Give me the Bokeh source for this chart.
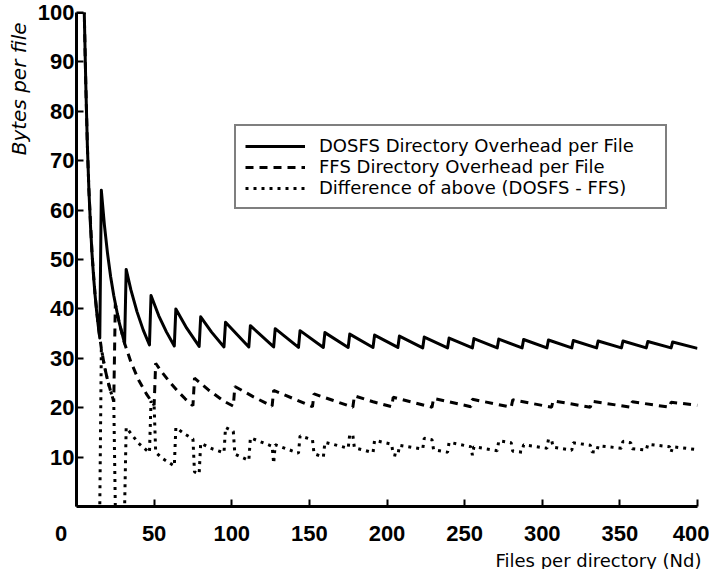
from bokeh.plotting import figure
from bokeh.models import FixedTicker, Legend, LegendItem, Range1d, Title
from bokeh.embed import file_html
from bokeh.resources import INLINE

# ---- data ----
dosfs_n = [1, 5, 6, 7, 8, 9, 10, 11, 12, 13, 14, 15,
           16, 18, 20, 22, 24, 27, 31,
           32, 35, 39, 43, 47,
           48, 53, 58, 63,
           64, 71, 79,
           80, 87, 95,
           96, 111, 112, 127, 128, 143, 144, 159, 160, 175, 176, 191, 192, 207,
           208, 223, 224, 239, 240, 255, 256, 271, 272, 287, 288, 303, 304, 319,
           320, 335, 336, 351, 352, 367, 368, 383, 384, 400]
dosfs_bytes = [100, 100, 85.3, 73.1, 64.0, 56.9, 51.2, 46.5, 42.7, 39.4, 36.6, 34.1,
               64.0, 56.9, 51.2, 46.5, 42.7, 37.9, 33.0,
               48.0, 43.9, 39.4, 35.7, 32.7,
               42.7, 38.6, 35.3, 32.5,
               40.0, 36.1, 32.4,
               38.4, 35.3, 32.3,
               37.3, 32.3, 36.6, 32.3, 36.0, 32.2, 35.6, 32.2, 35.2, 32.2, 34.9, 32.2, 34.7, 32.2,
               34.5, 32.1, 34.3, 32.1, 34.1, 32.1, 34.0, 32.1, 33.9, 32.1, 33.8, 32.1, 33.7, 32.1,
               33.6, 32.1, 33.5, 32.1, 33.5, 32.1, 33.4, 32.1, 33.3, 32.0]

ffs_n = [1, 5, 6, 7, 8, 10, 12, 14, 16, 18, 20, 22, 24,
         25, 28, 31, 35, 40, 45, 50,
         51, 55, 60, 65, 70, 75,
         76, 85, 95, 101,
         102, 114, 126,
         127, 140, 152,
         153, 165, 178,
         179, 191, 203,
         204, 229, 230, 254, 255, 280, 281, 306, 307, 331, 332, 357, 358, 382, 383, 400]
ffs_bytes = [100, 100, 85.3, 73.1, 64.0, 51.2, 42.7, 36.6, 32.0, 28.4, 25.6, 23.3, 21.3,
             41.0, 36.6, 33.0, 29.3, 25.6, 22.8, 20.5,
             29.0, 27.2, 25.2, 23.4, 21.8, 20.4,
             26.0, 23.6, 21.3, 20.3,
             24.3, 22.2, 20.3,
             23.5, 21.8, 20.2,
             22.8, 21.5, 20.1,
             22.4, 21.2, 20.2,
             22.1, 20.1, 21.9, 20.2, 21.7, 20.1, 21.6, 20.1, 21.4, 20.1, 21.3, 20.1, 21.2, 20.1, 21.1, 20.5]

diff_n = [1, 15, 16, 18, 20, 22, 24, 25, 31,
          32, 40, 47, 48, 50,
          51, 55, 63, 64, 70, 75,
          76, 79, 80, 88, 95,
          96, 101, 102, 111, 112, 126, 127,
          128, 143, 144, 152, 153, 159, 160, 175,
          176, 178, 179, 191, 192, 203, 204, 207,
          208, 223, 224, 229, 230, 239, 240, 254, 255,
          256, 271, 272, 280, 281, 287, 288, 303,
          304, 306, 307, 319, 320, 331, 332, 335,
          336, 351, 352, 357, 358, 367, 368, 382, 383,
          384, 400]
diff_bytes = [0, 0, 32.0, 28.4, 25.6, 23.3, 21.3, 0, 0,
              16.0, 12.8, 10.9, 21.3, 20.5,
              11.0, 9.8, 8.2, 16.0, 14.6, 13.7,
              7.0, 6.6, 12.8, 11.6, 10.9,
              16.0, 15.2, 10.6, 9.3, 13.9, 12.2, 8.7,
              12.5, 10.8, 14.3, 13.5, 10.7, 10.0, 13.0, 11.8,
              14.6, 14.4, 11.9, 10.9, 13.4, 12.6, 10.5, 10.3,
              12.4, 11.6, 13.8, 13.5, 11.5, 11.0, 13.0, 12.1, 10.4,
              12.1, 11.3, 13.3, 12.9, 11.2, 11.0, 12.5, 11.8,
              13.6, 13.5, 12.0, 11.4, 12.9, 12.4, 11.1, 11.0,
              12.3, 11.8, 13.2, 12.9, 11.7, 11.4, 12.6, 12.1, 11.0,
              12.1, 11.5]

x_ticks = [0, 50, 100, 150, 200, 250, 300, 350, 400]
y_ticks = [10, 20, 30, 40, 50, 60, 70, 80, 90, 100]
x_zero_label = "0" + "\u00a0" * 5   # the origin "0" sits left of the corner
series_labels = ["DOSFS Directory Overhead per File",
                 "FFS Directory Overhead per File",
                 "Difference of above (DOSFS - FFS)"]
x_title = "Files per directory (Nd)"
y_title = "Bytes per file"

p = figure(frame_width=621, frame_height=494, x_range=Range1d(0, 400), y_range=Range1d(0, 100),
           output_backend="svg", toolbar_location=None,
           min_border_left=75, min_border_right=12, min_border_top=12, min_border_bottom=40)
p.outline_line_color = None
p.grid.visible = False
p.background_fill_color = "white"
p.border_fill_color = "white"

tick_font = "Liberation Sans"
for ax in (p.xaxis[0], p.yaxis[0]):
    ax.axis_line_width = 3
    ax.axis_line_color = "black"
    ax.major_tick_in = 7
    ax.major_tick_out = 0
    ax.major_tick_line_width = 2
    ax.minor_tick_in = 0
    ax.minor_tick_out = 0
    ax.major_label_text_font = tick_font
    ax.major_label_text_font_size = "22px"
    ax.major_label_text_font_style = "bold"
    ax.major_label_text_color = "black"

p.xaxis.ticker = FixedTicker(ticks=x_ticks)
p.xaxis.major_label_overrides = {0: x_zero_label}
p.yaxis.ticker = FixedTicker(ticks=y_ticks)
p.xaxis.major_label_standoff = 14
p.yaxis.major_label_standoff = 2

x_lab = Title(text=x_title, align="right", offset=-4, standoff=-2,
              text_font="DejaVu Sans", text_font_size="18px", text_font_style="normal",
              text_color="black")
y_lab = Title(text=y_title, align="right", offset=10, standoff=8,
              text_font="DejaVu Sans", text_font_size="20px", text_font_style="italic",
              text_color="black")
p.add_layout(x_lab, "below")
p.add_layout(y_lab, "left")

r1 = p.line(dosfs_n, dosfs_bytes, line_color="black", line_width=3, line_join="round")
r2 = p.line(ffs_n, ffs_bytes, line_color="black", line_width=3, line_dash="8 6")
r3 = p.line(diff_n, diff_bytes, line_color="black", line_width=3, line_dash="3 5")

legend = Legend(items=[LegendItem(label=series_labels[0], renderers=[r1]),
                       LegendItem(label=series_labels[1], renderers=[r2]),
                       LegendItem(label=series_labels[2], renderers=[r3])],
                location=(158, 297))
legend.border_line_color = "black"
legend.border_line_width = 2
legend.background_fill_color = "white"
legend.background_fill_alpha = 1
legend.padding = 9
legend.margin = 0
legend.spacing = 0
legend.glyph_width = 60
legend.glyph_height = 20
legend.label_height = 20
legend.label_standoff = 14
legend.label_width = 337
legend.label_text_font = "DejaVu Sans"
legend.label_text_font_size = "18px"
legend.label_text_color = "black"
p.add_layout(legend)

open("out.html", "w").write(file_html(p, INLINE))
